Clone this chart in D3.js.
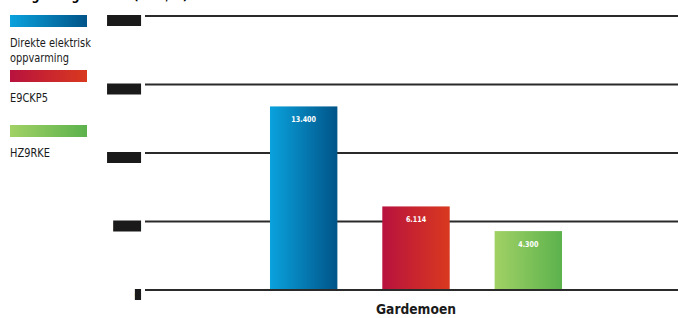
<!DOCTYPE html>
<html>
<head>
<meta charset="utf-8">
<style>
  body { margin: 0; background: #fff; }
  svg { display: block; font-family: "DejaVu Sans", sans-serif; }
</style>
<script src="https://cdn.jsdelivr.net/npm/d3@7"></script>
</head>
<body>
<script>
// data
var categories = ["Gardemoen"];
var series = ["Direkte elektrisk oppvarming", "E9CKP5", "HZ9RKE"];
var values = [13400, 6100, 4300];
var valueLabels = ["13.400", "6.114", "4.300"];
var yTicks = [0, 5000, 10000, 15000, 20000];
var tickLabels = ["0", "5.000", "10.000", "15.000", "20.000"];
var colors = [["#0aa2dd", "#005488"], ["#b8123e", "#d9391f"], ["#a1d165", "#5cb24d"]];

var W = 678, H = 318;
var svg = d3.select("body").append("svg").attr("width", W).attr("height", H);

// condensed-looking text: squeeze horizontally
function ctext(parent, x, y, sx, str) {
  return parent.append("g")
    .attr("transform", "translate(" + x + "," + y + ") scale(" + sx + ",1)")
    .append("text").text(str);
}

var defs = svg.append("defs");
colors.forEach(function(c, i) {
  var g = defs.append("linearGradient").attr("id", "grad" + i)
    .attr("x1", "0%").attr("x2", "100%").attr("y1", "0%").attr("y2", "0%");
  g.append("stop").attr("offset", "0%").attr("stop-color", c[0]);
  g.append("stop").attr("offset", "100%").attr("stop-color", c[1]);
});

// title, cut off at the top like in the reference
ctext(svg, 10, 0, 0.85, "Årlig energiforbruk (kWh/år)")
  .style("font-weight", "bold").style("font-size", "13px");

var y = d3.scaleLinear().domain([0, 20000]).range([290, 16]);
var x0 = d3.scaleBand().domain(categories).range([145, 687]).paddingOuter(0.428);
var x1 = d3.scaleBand().domain(series).range([0, x0.bandwidth()]).paddingInner(0.4);

// gridlines
svg.append("g").selectAll("line").data(yTicks).enter().append("line")
  .attr("x1", 145).attr("x2", W)
  .attr("y1", d => y(d)).attr("y2", d => y(d))
  .attr("stroke", "#2a2a2a").attr("stroke-width", 2);

// tick labels: dark blobs, as in the reference
var tg = svg.append("g");
yTicks.forEach(function(d, i) {
  var t = ctext(tg, 141, y(d) + 9, 0.8, tickLabels[i])
    .attr("text-anchor", "end")
    .style("font-size", "11px").style("font-weight", "bold")
    .attr("fill", "#1a1a1a");
  var b = t.node().getBBox();
  d3.select(t.node().parentNode).insert("rect", "text")
    .attr("x", b.x).attr("y", -10)
    .attr("width", b.width).attr("height", 11)
    .attr("fill", "#1a1a1a");
});

// bars
var grp = svg.append("g").attr("transform", "translate(" + x0(categories[0]) + ",0)");
grp.selectAll("rect").data(values).enter().append("rect")
  .attr("x", (d, i) => x1(series[i]))
  .attr("y", d => y(d))
  .attr("width", x1.bandwidth())
  .attr("height", d => y(0) - y(d))
  .attr("fill", (d, i) => "url(#grad" + i + ")");

values.forEach(function(d, i) {
  ctext(grp, x1(series[i]) + x1.bandwidth() / 2, y(d) + 16, 0.8, valueLabels[i])
    .attr("text-anchor", "middle")
    .attr("fill", "#fff")
    .style("font-size", "8px").style("font-weight", "bold");
});

// zero line on top
svg.append("line")
  .attr("x1", 145).attr("x2", W).attr("y1", y(0)).attr("y2", y(0))
  .attr("stroke", "#2a2a2a").attr("stroke-width", 2);

// category label
ctext(svg, x0(categories[0]) + x0.bandwidth() / 2, 314, 0.88, categories[0])
  .attr("text-anchor", "middle")
  .style("font-size", "14px").style("font-weight", "bold")
  .attr("fill", "#1a1a1a");

// legend
var legendY = [15, 70, 125];
var legendLines = [["Direkte elektrisk", "oppvarming"], ["E9CKP5"], ["HZ9RKE"]];
var leg = svg.append("g");
series.forEach(function(s, i) {
  leg.append("rect").attr("x", 10).attr("y", legendY[i])
    .attr("width", 77).attr("height", 12)
    .attr("fill", "url(#grad" + i + ")");
  legendLines[i].forEach(function(t, j) {
    ctext(leg, 10, legendY[i] + 32 + j * 15, 0.82, t)
      .style("font-size", "12px").attr("fill", "#1a1a1a");
  });
});
</script>
</body>
</html>
